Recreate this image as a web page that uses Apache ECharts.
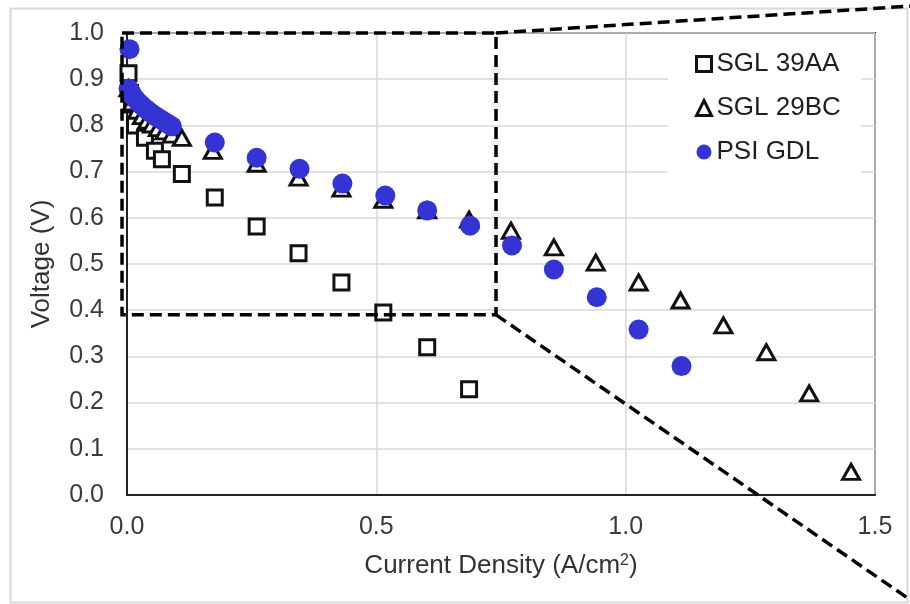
<!DOCTYPE html>
<html>
<head>
<meta charset="utf-8">
<script src="https://cdn.jsdelivr.net/npm/echarts@6/dist/echarts.min.js"></script>
<style>
  html, body { margin: 0; padding: 0; background: #fff; }
  #chart { width: 910px; height: 604px; }
</style>
</head>
<body>
<div id="chart"></div>
<script>
  // SGL 39AA (hollow squares)
  var sq39x = [0.003, 0.006, 0.010, 0.016, 0.036, 0.056, 0.070, 0.110, 0.176, 0.260, 0.344, 0.430, 0.514, 0.602, 0.686]
  var sq39y = [0.913, 0.870, 0.845, 0.800, 0.773, 0.745, 0.727, 0.695, 0.644, 0.581, 0.523, 0.460, 0.395, 0.320, 0.229]
  // SGL 29BC (hollow triangles)
  var tr29x = [0.003, 0.010, 0.020, 0.030, 0.040, 0.050, 0.062, 0.075, 0.090, 0.110, 0.172, 0.260, 0.344, 0.430, 0.514, 0.602, 0.686, 0.770, 0.856, 0.940, 1.026, 1.110, 1.196, 1.282, 1.368, 1.452]
  var tr29y = [0.880, 0.850, 0.832, 0.820, 0.810, 0.802, 0.794, 0.787, 0.780, 0.773, 0.745, 0.717, 0.687, 0.663, 0.639, 0.616, 0.596, 0.572, 0.536, 0.503, 0.460, 0.421, 0.367, 0.309, 0.220, 0.050]
  // PSI GDL (filled dots)
  var psiX = [0.005, 0.003, 0.008, 0.012, 0.018, 0.024, 0.030, 0.036, 0.042, 0.048, 0.054, 0.060, 0.066, 0.072, 0.078, 0.084, 0.090, 0.176, 0.260, 0.346, 0.432, 0.518, 0.602, 0.688, 0.772, 0.856, 0.942, 1.026, 1.112]
  var psiY = [0.965, 0.880, 0.872, 0.864, 0.856, 0.849, 0.843, 0.837, 0.832, 0.827, 0.822, 0.818, 0.814, 0.810, 0.806, 0.802, 0.798, 0.763, 0.730, 0.706, 0.674, 0.648, 0.616, 0.583, 0.540, 0.488, 0.428, 0.358, 0.279]

  var seriesNames = ['SGL 39AA', 'SGL 29BC', 'PSI GDL']
  // zoom box drawn over the chart, in data units
  var zoomBox = {x0: -0.01, x1: 0.74, y0: 0.39, y1: 1.0}

  var blue = '#3434d4'
  var font = '"Liberation Sans", Arial, sans-serif'

  function pairs(xs, ys) {
    var out = []
    for (var i = 0; i < xs.length; i++) out.push([xs[i], ys[i]])
    return out
  }

  var chart = echarts.init(document.getElementById('chart'))

  var option = {
    backgroundColor: '#fff',
    animation: false,
    grid: {
      left: 127, right: 35, top: 33, bottom: 109,
      show: true, borderColor: '#222', borderWidth: 2
    },
    legend: {
      orient: 'vertical',
      left: 668, top: 35,
      padding: [14, 20, 16, 27],
      backgroundColor: '#fff',
      itemWidth: 15, itemHeight: 15, itemGap: 14,
      textStyle: {fontFamily: font, fontSize: 26, color: '#1e1e1e', lineHeight: 30},
      data: [
        {name: seriesNames[0], icon: 'rect', itemStyle: {color: 'transparent', borderColor: '#111', borderWidth: 3}},
        {name: seriesNames[1], icon: 'triangle', itemStyle: {color: 'transparent', borderColor: '#111', borderWidth: 3}},
        {name: seriesNames[2], icon: 'circle', itemStyle: {color: blue}}
      ]
    },
    xAxis: {
      type: 'value', min: 0, max: 1.5, interval: 0.5,
      name: 'Current Density (A/cm{sup|2})',
      nameLocation: 'middle', nameGap: 58,
      nameTextStyle: {
        fontFamily: font, fontSize: 26, color: '#333',
        rich: {sup: {fontFamily: font, fontSize: 16, color: '#333', verticalAlign: 'top', padding: [0, 0, 10, 0]}}
      },
      axisLine: {lineStyle: {color: '#222', width: 2}},
      axisTick: {show: false},
      axisLabel: {
        fontFamily: font, fontSize: 25, color: '#3a3a3a', margin: 20,
        formatter: function (v) { return v.toFixed(1) }
      },
      splitLine: {lineStyle: {color: '#d9d9d9', width: 1.5}}
    },
    yAxis: {
      type: 'value', min: 0, max: 1, interval: 0.1,
      name: 'Voltage (V)',
      nameLocation: 'middle', nameGap: 72,
      nameTextStyle: {fontFamily: font, fontSize: 26, color: '#333'},
      axisLine: {lineStyle: {color: '#222', width: 2}},
      axisTick: {show: false},
      axisLabel: {
        fontFamily: font, fontSize: 25, color: '#3a3a3a', margin: 23,
        formatter: function (v) { return v.toFixed(1) }
      },
      splitLine: {lineStyle: {color: '#d9d9d9', width: 1.5}}
    },
    series: [
      {
        name: seriesNames[0], type: 'scatter', symbol: 'rect', symbolSize: 15,
        itemStyle: {color: '#fff', borderColor: '#111', borderWidth: 3, opacity: 1},
        data: pairs(sq39x, sq39y), z: 2
      },
      {
        name: seriesNames[1], type: 'scatter', symbol: 'triangle', symbolSize: [17, 15],
        itemStyle: {color: '#fff', borderColor: '#111', borderWidth: 3, opacity: 1},
        data: pairs(tr29x, tr29y), z: 3
      },
      {
        name: seriesNames[2], type: 'scatter', symbol: 'circle', symbolSize: 20,
        itemStyle: {color: blue, opacity: 1},
        data: pairs(psiX, psiY), z: 4
      }
    ]
  }

  chart.setOption(option)

  // dashed zoom box and the two leader lines running off the page
  var tl = chart.convertToPixel({gridIndex: 0}, [zoomBox.x0, zoomBox.y1])
  var tr = chart.convertToPixel({gridIndex: 0}, [zoomBox.x1, zoomBox.y1])
  var br = chart.convertToPixel({gridIndex: 0}, [zoomBox.x1, zoomBox.y0])
  var bl = chart.convertToPixel({gridIndex: 0}, [zoomBox.x0, zoomBox.y0])
  var dash = {stroke: '#000', lineWidth: 3.5, lineDash: [12, 6], fill: null}

  chart.setOption({
    graphic: [
      {type: 'rect', left: 8, top: 6, z: -1, silent: true,
        shape: {width: 897, height: 594}, style: {fill: null, stroke: '#d9d9d9', lineWidth: 2}},
      {type: 'polyline', z: 100, silent: true,
        shape: {points: [tl, tr, br, bl, tl]}, style: dash},
      {type: 'line', z: 100, silent: true,
        shape: {x1: tr[0], y1: tr[1], x2: 912, y2: 6}, style: dash},
      {type: 'line', z: 100, silent: true,
        shape: {x1: br[0], y1: br[1], x2: 912, y2: 601}, style: dash}
    ]
  })

  window.addEventListener('resize', function () { chart.resize() })
</script>
</body>
</html>
